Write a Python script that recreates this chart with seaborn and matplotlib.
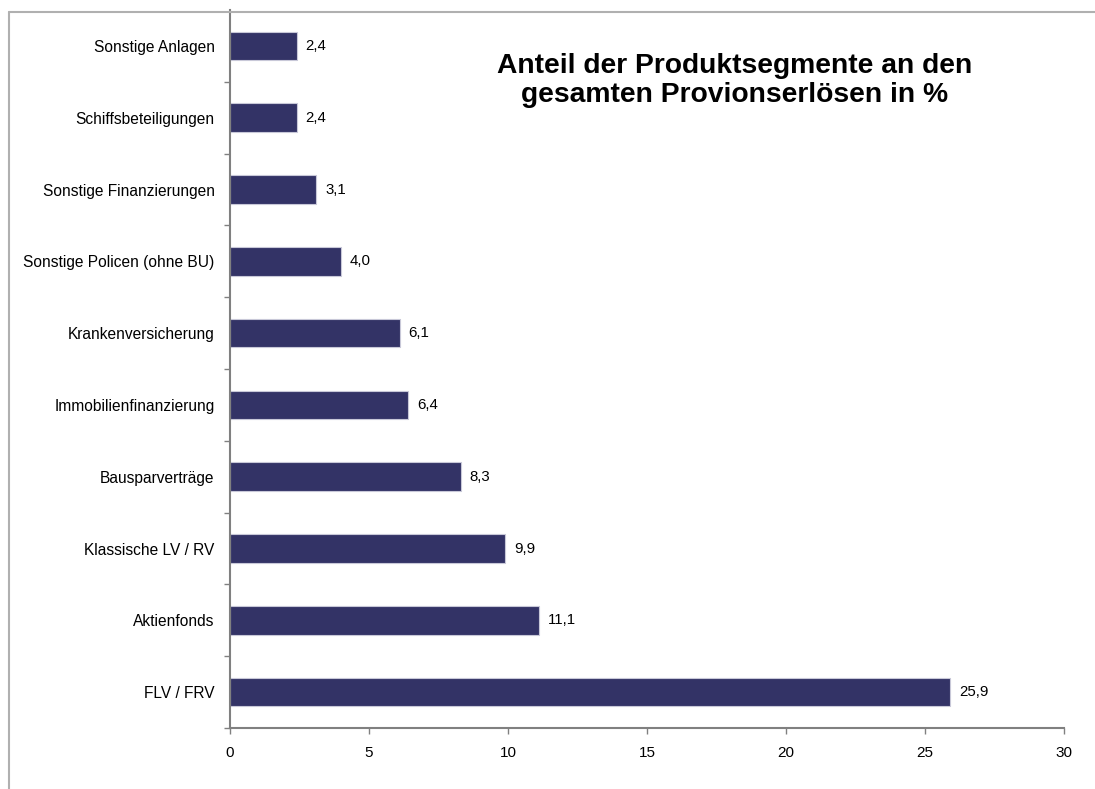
import numpy as np
import pandas as pd
import seaborn as sns
import matplotlib.pyplot as plt
from matplotlib.lines import Line2D

#%% data

categories = ['Sonstige Anlagen', 'Schiffsbeteiligungen', 'Sonstige Finanzierungen',
              'Sonstige Policen (ohne BU)', 'Krankenversicherung', 'Immobilienfinanzierung',
              'Bausparverträge', 'Klassische LV / RV', 'Aktienfonds', 'FLV / FRV']
values = [2.4, 2.4, 3.1, 4.0, 6.1, 6.4, 8.3, 9.9, 11.1, 25.9]
x_ticks = [0, 5, 10, 15, 20, 25, 30]

title = 'Anteil der Produktsegmente an den\ngesamten Provionserlösen in %'

#%% plot

sns.set_style('white')
plt.rcParams['font.family'] = ['Liberation Sans', 'DejaVu Sans']
plt.rcParams['text.color'] = 'black'
plt.rcParams['xtick.color'] = '#808080'
plt.rcParams['ytick.color'] = '#808080'
plt.rcParams['xtick.labelcolor'] = 'black'
plt.rcParams['ytick.labelcolor'] = 'black'

df = pd.DataFrame({'Segment': categories, 'Anteil': values})

fig = plt.figure(figsize=(10.95, 7.89), dpi=100)
ax = fig.add_axes([0.210, 0.0773, 0.7617, 0.91])

sns.barplot(data=df, x='Anteil', y='Segment', order=categories, orient='h',
            color='#333366', saturation=1, width=0.4,
            edgecolor='#c8c8d8', linewidth=0.8, ax=ax)

# value labels with decimal comma
for i, v in enumerate(values):
    ax.text(v + 0.32, i, f'{v:.1f}'.replace('.', ','), va='center', ha='left',
            fontsize=10.8, color='black')

ax.set_xlim(0, 30)
ax.set_ylim(len(categories) - 0.5, -0.5)
ax.set_xticks(x_ticks)
ax.set_xlabel('')
ax.set_ylabel('')

# ticks at category boundaries on the y axis (none at the very top)
ax.set_yticks(np.arange(len(categories)))
ax.set_yticklabels(categories)
ax.set_yticks(np.arange(len(categories)) + 0.5, minor=True)
ax.tick_params(axis='y', which='major', left=True, length=0, pad=11, labelsize=11.2)
ax.tick_params(axis='y', which='minor', left=True, length=4, width=1, direction='out')
ax.tick_params(axis='x', which='major', bottom=True, length=4, width=1, direction='out',
               pad=9, labelsize=11)

for s in ['top', 'right']:
    ax.spines[s].set_visible(False)
for s in ['left', 'bottom']:
    ax.spines[s].set_color('#808080')
    ax.spines[s].set_linewidth(1.5)

ax.text(0.605, 0.902, title, transform=ax.transAxes, ha='center', va='center',
        fontsize=20.3, fontweight='bold', linespacing=1.17, color='black')

# partial frame around the chart (top and left)
fig.add_artist(Line2D([9 / 1095, 1], [1 - 12 / 789, 1 - 12 / 789], color='#b0b0b0', lw=1.5))
fig.add_artist(Line2D([9 / 1095, 9 / 1095], [0, 1 - 12 / 789], color='#b0b0b0', lw=1.5))

fig.savefig('out.png', dpi=100)
